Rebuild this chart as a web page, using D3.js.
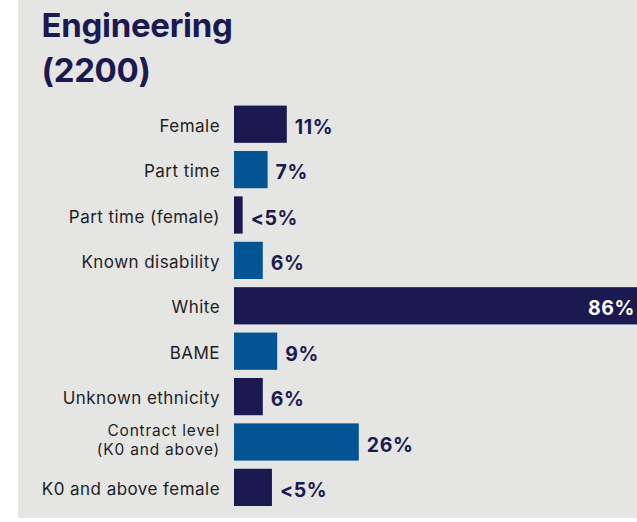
<!DOCTYPE html>
<html>
<head>
<meta charset="utf-8">
<script src="https://cdn.jsdelivr.net/npm/d3@7"></script>
<style>
  html, body { margin: 0; padding: 0; background: #ffffff; }
  svg { display: block; }
</style>
</head>
<body>
<svg id="chart" width="637" height="522"></svg>
<script>
const categories = ["Female", "Part time", "Part time (female)", "Known disability", "White", "BAME", "Unknown ethnicity", "Contract level\n(K0 and above)", "K0 and above female"];
const values = [11, 7, 1.8, 6, 86, 9, 6, 26, 7.9];
const valueLabels = ["11%", "7%", "<5%", "6%", "86%", "9%", "6%", "26%", "<5%"];
const barGroups = ["dark", "blue", "dark", "blue", "dark", "blue", "dark", "blue", "dark"];
const titleLines = ["Engineering", "(2200)"];

const W = 637, H = 522;
const svg = d3.select("#chart");
const colors = { dark: "#1b1a50", blue: "#025592" };

svg.append("rect").attr("x", 18).attr("y", 0).attr("width", W - 18).attr("height", 518).attr("fill", "#e5e5e4");

const font = "Inter, 'Open Sans', sans-serif";
const titleG = svg.append("g");
titleLines.forEach((t, i) => {
  titleG.append("text")
    .attr("x", 41.5).attr("y", 37 + i * 45)
    .attr("font-family", font)
    .attr("font-weight", 700)
    .attr("font-size", 33)
    .attr("letter-spacing", -0.3)
    .attr("fill", "#1b1a50")
    .text(t);
});

const x = d3.scaleLinear().domain([0, 100]).range([234, 234 + 480]);
const y = d3.scaleBand().domain(d3.range(categories.length)).range([101.5, 101.5 + 45.4 * categories.length]).paddingInner(0.18).paddingOuter(0.09);

svg.append("clipPath").attr("id", "clip").append("rect").attr("x", 0).attr("y", 0).attr("width", W).attr("height", H);

const g = svg.append("g").attr("clip-path", "url(#clip)");
g.selectAll("rect.bar").data(values).join("rect")
  .attr("class", "bar")
  .attr("x", x(0))
  .attr("y", (d, i) => y(i))
  .attr("width", d => x(d) - x(0))
  .attr("height", y.bandwidth())
  .attr("fill", (d, i) => colors[barGroups[i]]);

categories.forEach((c, i) => {
  const lines = c.split("\n");
  const cy = y(i) + y.bandwidth() / 2;
  lines.forEach((l, j) => {
    const multi = lines.length > 1;
    const dy = !multi ? 7.6 : (j === 0 ? -6.3 : 12.6);
    svg.append("text")
      .attr("text-anchor", "end")
      .attr("font-family", font)
      .attr("font-size", multi ? 15.5 : 17)
      .attr("letter-spacing", multi ? 0.8 : 0.45)
      .attr("fill", "#1e1e1e")
      .attr("x", 220)
      .attr("y", cy + dy)
      .text(l);
  });
});

values.forEach((v, i) => {
  const cy = y(i) + y.bandwidth() / 2;
  const inside = x(v) > W - 60;
  svg.append("text")
    .attr("x", inside ? W - 2 : x(v) + 8)
    .attr("y", cy + 9.6)
    .attr("text-anchor", inside ? "end" : "start")
    .attr("font-family", font)
    .attr("font-weight", 700)
    .attr("font-size", 19.5)
    .attr("letter-spacing", 0.6)
    .attr("fill", inside ? "#ffffff" : "#1b1a50")
    .text(valueLabels[i]);
});
</script>
</body>
</html>
